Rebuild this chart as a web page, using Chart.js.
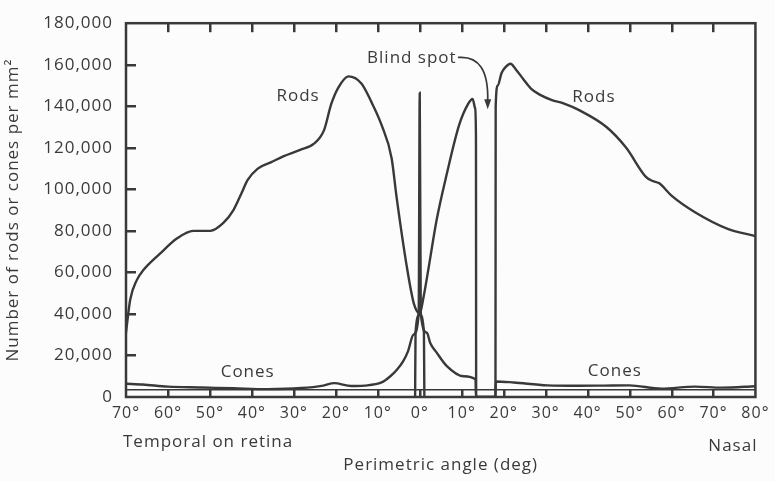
<!DOCTYPE html>
<html>
<head>
<meta charset="utf-8">
<title>Rods and cones</title>
<script src="https://cdn.jsdelivr.net/npm/chart.js@4.4.1/dist/chart.umd.min.js"></script>
<style>
  html, body { margin: 0; padding: 0; background: #fcfcfc; }
  #wrap { width: 775px; height: 481px; }
</style>
</head>
<body>
<div id="wrap"><canvas id="retinaChart" width="775" height="481"></canvas></div>
<script>
// Rods, temporal side (left half)
const rodsTemporalAngle = [-70, -69, -67.4, -65.9, -61.9, -57.8, -54, -49.9, -46.8, -44.4, -42.5, -41, -38.6, -35.5, -32.4, -28.5, -25.2, -22.8, -21.1, -19.4, -17, -13.9, -11.5, -9.1, -6.7, -5.5, -3.1, -1.4, 0, 1, 1.1];
const rodsTemporalValue = [31000, 46800, 56400, 61000, 69000, 76400, 80000, 80000, 83800, 90000, 98000, 104500, 110000, 113000, 116000, 119000, 122000, 128500, 141000, 149000, 154400, 151000, 142000, 131000, 115000, 96000, 63000, 45000, 40000, 31000, 0];

// Rods, nasal side (right half), with the blind spot gap
const rodsNasalAngle = [-1.1, -1, 0, 0.9, 2.1, 4, 6.4, 9.4, 11.5, 12.6, 13.2, 13.4, 13.45, 18.05, 18.1, 18.6, 19.5, 20.5, 21.6, 23, 24.7, 26.5, 28.7, 31.5, 34.1, 38.1, 44.5, 49.2, 53.9, 55.5, 57, 60, 65.6, 73.4, 80];
const rodsNasalValue = [0, 31000, 40000, 48000, 62000, 85000, 107000, 131000, 141000, 143500, 139000, 125000, 0, 0, 140000, 150000, 156000, 159000, 160500, 157500, 153000, 148500, 145500, 143000, 141500, 138000, 130000, 120000, 106000, 104000, 103000, 97000, 89000, 81000, 77500];

// Cones, whole range (spike at the fovea)
const conesAngle = [-70, -66, -60, -52, -44.4, -36.2, -28.3, -23, -20.4, -16.3, -13.2, -9.1, -7, -5.5, -4, -2.8, -1.5, -0.25, 0, 0.25, 1.7, 2.5, 4, 6.4, 10.4, 13.3, 13.4, 18.05, 18.1, 22.4, 30.4, 38.1, 44, 49.9, 57.6, 65.6, 72, 80];
const conesValue = [6400, 6000, 5000, 4600, 4200, 3800, 4300, 5500, 6700, 5300, 5500, 7000, 10000, 13000, 17000, 22000, 30000, 40000, 146500, 40000, 31000, 26000, 21500, 15000, 10000, 8500, 0, 0, 7500, 7000, 5600, 5400, 5500, 5600, 4000, 5000, 4500, 5200];

// Axis settings
const angleMin = -70;
const angleMax = 80;
const angleStep = 10;
const countMax = 180000;
const countStep = 20000;

const ink = '#393939';
const textInk = '#3a3a3a';
const fontFamily = '"Open Sans", "Noto Sans", sans-serif';

function toPoints(xs, ys) {
    return xs.map((x, i) => ({ x: x, y: ys[i] }));
}

// Box, inward ticks and the text labels inside the plot
const framePlugin = {
    id: 'frame',
    beforeDraw(chart) {
        chart.ctx.letterSpacing = '1px';
    },
    afterDraw(chart) {
        const ctx = chart.ctx;
        const a = chart.chartArea;
        const xs = chart.scales.x;
        const ys = chart.scales.y;
        ctx.save();
        ctx.letterSpacing = '1px';
        ctx.strokeStyle = ink;
        ctx.fillStyle = ink;
        ctx.lineWidth = 2.5;
        ctx.strokeRect(a.left, a.top, a.right - a.left, a.bottom - a.top);

        // inward tick marks, placed by the scales
        for (let v = angleMin + angleStep; v < angleMax; v += angleStep) {
            const px = Math.round(xs.getPixelForValue(v));
            ctx.fillRect(px - 1, a.bottom - 8, 2.5, 8);
            ctx.fillRect(px - 1, a.top, 2.5, 9);
        }
        for (let v = countStep; v < countMax; v += countStep) {
            const py = Math.round(ys.getPixelForValue(v));
            ctx.fillRect(a.left, py - 1, 10, 2.5);
        }

        // second line along the bottom edge
        ctx.fillRect(a.left, a.bottom - 8, a.right - a.left, 1.5);

        ctx.fillStyle = textInk;
        ctx.font = '17px ' + fontFamily;
        ctx.textAlign = 'center';
        ctx.textBaseline = 'middle';
        ctx.fillText('Rods', xs.getPixelForValue(-29), ys.getPixelForValue(145000));
        ctx.fillText('Rods', xs.getPixelForValue(41.5), ys.getPixelForValue(144500));
        ctx.fillText('Cones', xs.getPixelForValue(-41), ys.getPixelForValue(12000));
        ctx.fillText('Cones', xs.getPixelForValue(46.5), ys.getPixelForValue(12500));

        ctx.textAlign = 'right';
        ctx.fillText('Blind spot', xs.getPixelForValue(8.8), ys.getPixelForValue(163000));

        // curved arrow to the blind spot
        const sx = xs.getPixelForValue(9.1), sy = ys.getPixelForValue(163500);
        const tx = xs.getPixelForValue(16.2), ty = ys.getPixelForValue(139500);
        ctx.lineWidth = 1.7;
        ctx.beginPath();
        ctx.moveTo(sx, sy);
        ctx.bezierCurveTo(xs.getPixelForValue(14.2), ys.getPixelForValue(164500),
                          xs.getPixelForValue(16.4), ys.getPixelForValue(157000),
                          tx, ty - 6);
        ctx.stroke();
        ctx.beginPath();
        ctx.moveTo(tx, ty + 2);
        ctx.lineTo(tx - 3.5, ty - 8);
        ctx.lineTo(tx + 3.5, ty - 8);
        ctx.closePath();
        ctx.fill();

        // side labels under the axis
        ctx.textBaseline = 'middle';
        ctx.textAlign = 'left';
        ctx.fillText('Temporal on retina', a.left - 3, a.bottom + 45);
        ctx.textAlign = 'right';
        ctx.fillText('Nasal', a.right + 2, a.bottom + 49);
        ctx.restore();
    }
};

const lineStyle = {
    borderColor: ink,
    borderWidth: 2.4,
    pointRadius: 0,
    fill: false,
    cubicInterpolationMode: 'monotone'
};

new Chart(document.getElementById('retinaChart'), {
    type: 'line',
    data: {
        datasets: [
            Object.assign({ label: 'Rods (temporal)', data: toPoints(rodsTemporalAngle, rodsTemporalValue) }, lineStyle),
            Object.assign({ label: 'Rods (nasal)', data: toPoints(rodsNasalAngle, rodsNasalValue) }, lineStyle),
            Object.assign({ label: 'Cones', data: toPoints(conesAngle, conesValue) }, lineStyle)
        ]
    },
    options: {
        responsive: false,
        animation: false,
        layout: { padding: { top: 20, right: 17, left: 0, bottom: 0 } },
        plugins: {
            legend: { display: false },
            tooltip: { enabled: false }
        },
        scales: {
            x: {
                type: 'linear',
                min: angleMin,
                max: angleMax,
                grid: { display: false, drawTicks: false },
                border: { display: false },
                ticks: {
                    stepSize: angleStep,
                    autoSkip: false,
                    maxRotation: 0,
                    padding: 7,
                    color: textInk,
                    font: { family: fontFamily, size: 16 },
                    callback: v => Math.abs(v) + '°'
                },
                title: {
                    display: true,
                    text: 'Perimetric angle (deg)',
                    color: textInk,
                    font: { family: fontFamily, size: 17 },
                    padding: { top: 0, bottom: 6 }
                },
                afterFit: scale => { scale.height = 84; }
            },
            y: {
                min: 0,
                max: countMax,
                grid: { display: false, drawTicks: false },
                border: { display: false },
                ticks: {
                    stepSize: countStep,
                    padding: 13,
                    color: textInk,
                    font: { family: fontFamily, size: 17 },
                    callback: v => v.toLocaleString('en-US')
                },
                title: {
                    display: true,
                    text: 'Number of rods or cones per mm²',
                    color: textInk,
                    font: { family: fontFamily, size: 17 },
                    padding: { top: 3, bottom: 0 }
                },
                afterFit: scale => { scale.width = 126; }
            }
        }
    },
    plugins: [framePlugin]
});
</script>
</body>
</html>
